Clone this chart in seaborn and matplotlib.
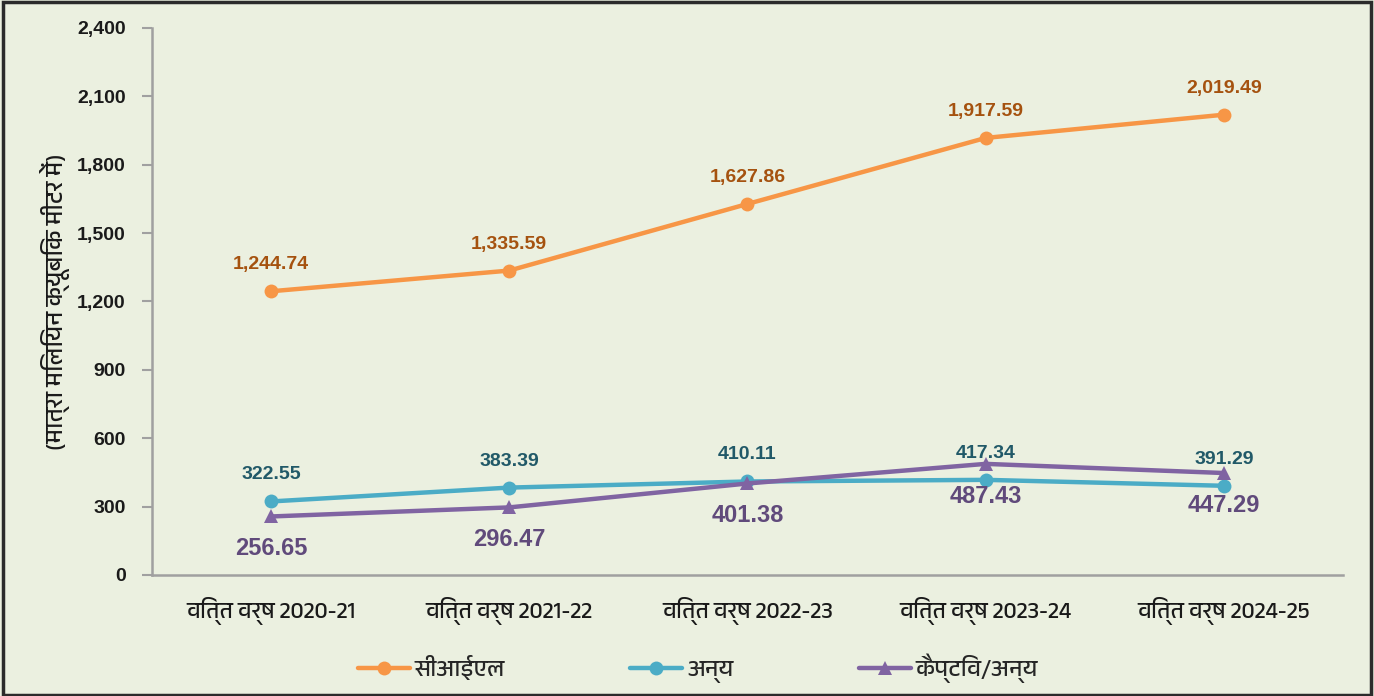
import matplotlib
matplotlib.use("Agg")
import matplotlib.pyplot as plt
from matplotlib import font_manager
import seaborn as sns
import pandas as pd

# data
categories = ["वित्त वर्ष 2020-21", "वित्त वर्ष 2021-22", "वित्त वर्ष 2022-23",
              "वित्त वर्ष 2023-24", "वित्त वर्ष 2024-25"]
cil = [1244.74, 1335.59, 1627.86, 1917.59, 2019.49]
others = [322.55, 383.39, 410.11, 417.34, 391.29]
captive = [256.65, 296.47, 401.38, 487.43, 447.29]
series_names = ["सीआईएल", "अन्य", "कैप्टिव/अन्य"]
yticks = [0, 300, 600, 900, 1200, 1500, 1800, 2100, 2400]

sns.set_theme(style="white")

# pick a Devanagari capable family if one is installed
names = sorted({f.name for f in font_manager.fontManager.ttflist})
deva = [n for n in names if "Devanagari" in n]
hindi_fonts = deva + ["Noto Sans", "DejaVu Sans"]
num_font = "Liberation Sans Narrow" if "Liberation Sans Narrow" in names else "Liberation Sans"
plt.rcParams["font.family"] = hindi_fonts

bg = "#EBF0E0"
colors = ["#F79646", "#4BACC6", "#8064A2"]
label_colors = ["#A5520F", "#215968", "#604A7B"]

df = pd.DataFrame({"cat": categories * 3,
                   "val": cil + others + captive,
                   "series": [series_names[0]] * 5 + [series_names[1]] * 5 + [series_names[2]] * 5})

fig = plt.figure(figsize=(13.74, 6.96), dpi=100, facecolor=bg)
fig.patches.append(plt.Rectangle((0.002, 0.002), 0.996, 0.995, transform=fig.transFigure,
                                 fill=False, edgecolor="#2b2b2b", linewidth=2.5))
ax = fig.add_axes([0.1106, 0.1739, 0.8668, 0.7859])
ax.set_facecolor(bg)

sns.lineplot(data=df, x="cat", y="val", hue="series", style="series",
             palette=colors, markers=["o", "o", "^"], dashes=False,
             linewidth=3.2, markersize=10, markeredgewidth=0, ax=ax, sort=False)

# value labels
for i in range(len(categories)):
    ax.annotate(f"{cil[i]:,.2f}", (i, cil[i]), xytext=(0, 13), textcoords="offset points",
                ha="center", va="bottom", color=label_colors[0], fontsize=14,
                fontweight="bold", family=num_font)
    ax.annotate(f"{others[i]:,.2f}", (i, others[i]), xytext=(0, 13), textcoords="offset points",
                ha="center", va="bottom", color=label_colors[1], fontsize=14,
                fontweight="bold", family=num_font)
    ax.annotate(f"{captive[i]:,.2f}", (i, captive[i]), xytext=(0, -15), textcoords="offset points",
                ha="center", va="top", color=label_colors[2], fontsize=17,
                fontweight="bold", family=num_font)

ax.set_xlim(-0.5, len(categories) - 0.5)
ax.set_ylim(0, 2400)
ax.set_yticks(yticks)
ax.set_yticklabels([f"{v:,}" for v in yticks], fontsize=14, fontweight="bold",
                   family=num_font, color="#1a1a1a")
ax.set_xticks(range(len(categories)))
ax.set_xticklabels(categories, fontsize=16.5, color="#1a1a1a")
ax.set_xticks([i - 0.5 for i in range(len(categories) + 1)], minor=True)
ax.tick_params(axis="x", which="major", length=0, pad=16)
ax.tick_params(axis="x", which="minor", length=7, width=1.5, color="#A0A0A0", direction="out")
ax.tick_params(axis="y", length=7, width=1.5, color="#A0A0A0", direction="out", pad=12, left=True)

for s in ["top", "right"]:
    ax.spines[s].set_visible(False)
for s in ["left", "bottom"]:
    ax.spines[s].set_color("#A0A0A0")
    ax.spines[s].set_linewidth(1.8)

ax.set_xlabel("")
ax.set_ylabel("(मात्रा मिलियन क्यूबिक मीटर में)", fontsize=17.5, color="#1a1a1a", labelpad=5)

handles, labels = ax.get_legend_handles_labels()
ax.legend_.remove()
fig.legend(handles, labels, loc="center", bbox_to_anchor=(0.508, 0.04), ncol=3,
           frameon=False, fontsize=17, columnspacing=5.3, handlelength=2.2, handletextpad=0.2)

fig.savefig("out.png", dpi=100, facecolor=bg)
